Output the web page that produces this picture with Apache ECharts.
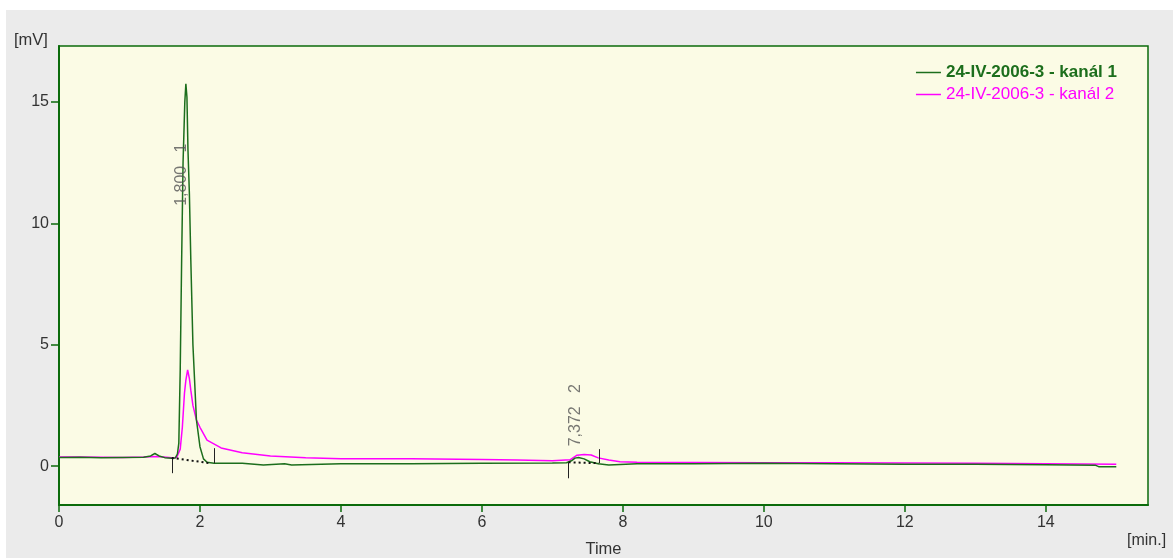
<!DOCTYPE html>
<html>
<head>
<meta charset="utf-8">
<script src="https://cdn.jsdelivr.net/npm/echarts@6/dist/echarts.min.js"></script>
<style>
  html, body { margin: 0; padding: 0; background: #fff; }
  #chart { width: 1173px; height: 558px; }
</style>
</head>
<body>
<div id="chart"></div>
<script>
// kanál 1 (green)
const greenTime = [0, 0.3, 0.6, 0.9, 1.2, 1.3, 1.36, 1.42, 1.5, 1.6, 1.65, 1.68, 1.70, 1.72, 1.74, 1.76, 1.785, 1.80, 1.815, 1.83, 1.85, 1.87, 1.90, 1.95, 2.0, 2.05, 2.1, 2.2, 2.6, 2.61, 2.9, 2.91, 3.2, 3.21, 3.3, 3.31, 4, 5, 6, 7, 7.2, 7.27, 7.32, 7.37, 7.45, 7.53, 7.65, 7.8, 8.2, 9, 10, 11, 12, 13, 14, 14.7, 14.75, 15];
const greenValue = [0.36, 0.37, 0.35, 0.36, 0.37, 0.42, 0.52, 0.42, 0.35, 0.33, 0.34, 0.5, 0.95, 4.0, 8.5, 12.5, 15.0, 15.74, 15.2, 13.0, 11.2, 8.5, 5.0, 1.9, 0.8, 0.3, 0.16, 0.12, 0.12, 0.05, 0.05, 0.1, 0.1, 0.05, 0.05, 0.1, 0.1, 0.1, 0.12, 0.13, 0.14, 0.22, 0.33, 0.36, 0.3, 0.18, 0.1, 0.05, 0.1, 0.1, 0.12, 0.1, 0.08, 0.08, 0.06, 0.04, -0.02, -0.02];

// kanál 2 (magenta)
const magentaTime = [0, 0.3, 0.6, 0.9, 1.2, 1.4, 1.6, 1.67, 1.72, 1.75, 1.78, 1.80, 1.825, 1.85, 1.87, 1.90, 1.95, 2.0, 2.1, 2.3, 2.6, 3.0, 3.5, 4, 5, 6, 6.5, 7, 7.25, 7.35, 7.45, 7.55, 7.65, 7.8, 7.96, 8.2, 9, 10, 11, 12, 13, 14, 15];
const magentaValue = [0.38, 0.38, 0.37, 0.36, 0.38, 0.4, 0.35, 0.36, 0.7, 1.6, 3.0, 3.54, 3.96, 3.6, 3.13, 2.5, 1.9, 1.6, 1.07, 0.75, 0.55, 0.42, 0.35, 0.3, 0.3, 0.27, 0.25, 0.22, 0.26, 0.45, 0.48, 0.46, 0.34, 0.25, 0.18, 0.16, 0.15, 0.14, 0.14, 0.13, 0.12, 0.1, 0.08];

// peak annotations
const peakLabels = ['1,800   1', '7,372   2'];
const peakLabelTime = [1.745, 7.33];
const peakLabelValue = [12.0, 2.1];

// peak start/end markers: time, from, to
const markerTime = [1.60, 2.20, 7.23, 7.66];
const markerFrom = [0.33, 0.12, 0.16, 0.12];
const markerTo = [-0.29, 0.74, -0.5, 0.7];

// dotted baselines under the peaks
const baseStartTime = [1.60, 7.23];
const baseStartValue = [0.34, 0.16];
const baseEndTime = [2.15, 7.66];
const baseEndValue = [0.12, 0.12];

const xTicks = [0, 2, 4, 6, 8, 10, 12, 14];
const yTicks = [0, 5, 10, 15];

const seriesNames = ['24-IV-2006-3 - kanál 1', '24-IV-2006-3 - kanál 2'];
const green = '#1c6e1c';
const magenta = '#ff00ff';
const axisGreen = '#0b6b0b';

const zip = (a, b) => a.map((v, i) => [v, b[i]]);

const chart = echarts.init(document.getElementById('chart'));
chart.setOption({
  animation: false,
  backgroundColor: '#ffffff',
  textStyle: { fontFamily: 'Liberation Sans, Arial, sans-serif' },
  graphic: [
    { type: 'rect', left: 6, top: 10, shape: { width: 1167, height: 548 }, style: { fill: '#ebebeb' }, z: -10 },
    { type: 'text', left: 14, top: 32, style: { text: '[mV]', fill: '#333', font: '16.5px Liberation Sans' } },
    { type: 'text', left: 1127, top: 533, style: { text: '[min.]', fill: '#333', font: '16px Liberation Sans' } }
  ],
  grid: {
    left: 59, top: 46, right: 25, bottom: 53,
    containLabel: false,
    outerBoundsMode: 'none',
    show: true,
    backgroundColor: '#fbfbe5',
    borderColor: axisGreen,
    borderWidth: 1.5
  },
  legend: {
    orient: 'vertical',
    right: 51,
    top: 59,
    itemGap: 5,
    itemWidth: 25,
    itemHeight: 1.5,
    icon: 'rect',
    data: [
      { name: seriesNames[0], textStyle: { color: green, fontWeight: 'bold', fontSize: 17 } },
      { name: seriesNames[1], textStyle: { color: magenta, fontSize: 17 } }
    ]
  },
  xAxis: {
    type: 'value',
    min: 0,
    max: 15.45,
    name: 'Time',
    nameLocation: 'middle',
    nameGap: 36,
    nameTextStyle: { color: '#333', fontSize: 16.5 },
    axisLine: { onZero: false, lineStyle: { color: axisGreen, width: 2 } },
    axisTick: { customValues: xTicks, length: 7, lineStyle: { color: axisGreen, width: 1.5 } },
    axisLabel: { customValues: xTicks, color: '#333', fontSize: 16, margin: 10 },
    splitLine: { show: false }
  },
  yAxis: {
    type: 'value',
    min: -1.6,
    max: 17.3,
    axisLine: { show: true, onZero: false, lineStyle: { color: axisGreen, width: 2 } },
    axisTick: { show: true, customValues: yTicks, length: 8, lineStyle: { color: axisGreen, width: 1.5 } },
    axisLabel: { customValues: yTicks, color: '#333', fontSize: 16, margin: 10 },
    splitLine: { show: false }
  },
  series: [
    {
      name: seriesNames[1],
      type: 'line',
      data: zip(magentaTime, magentaValue),
      showSymbol: false,
      color: magenta,
      lineStyle: { color: magenta, width: 1.5 },
      z: 2
    },
    {
      name: seriesNames[0],
      type: 'line',
      data: zip(greenTime, greenValue),
      showSymbol: false,
      color: green,
      lineStyle: { color: green, width: 1.5 },
      z: 3
    },
    {
      name: 'markers',
      type: 'line',
      data: [],
      markLine: {
        silent: true,
        symbol: 'none',
        label: { show: false },
        lineStyle: { color: '#222', width: 1, type: 'solid' },
        data: markerTime.map((t, i) => [{ coord: [t, markerFrom[i]] }, { coord: [t, markerTo[i]] }])
      },
      z: 4
    },
    {
      name: 'baselines',
      type: 'line',
      data: [],
      markLine: {
        silent: true,
        symbol: 'none',
        label: { show: false },
        lineStyle: { color: '#111', width: 2, type: [2, 3] },
        data: baseStartTime.map((t, i) => [{ coord: [t, baseStartValue[i]] }, { coord: [baseEndTime[i], baseEndValue[i]] }])
      },
      z: 4
    },
    {
      name: 'peaks',
      type: 'scatter',
      symbolSize: 0,
      data: peakLabelTime.map((t, i) => ({ value: [t, peakLabelValue[i]], label: { formatter: peakLabels[i] } })),
      label: {
        show: true,
        position: 'inside',
        rotate: 90,
        color: '#555',
        fontSize: 16
      },
      z: 5
    }
  ]
});
</script>
</body>
</html>
